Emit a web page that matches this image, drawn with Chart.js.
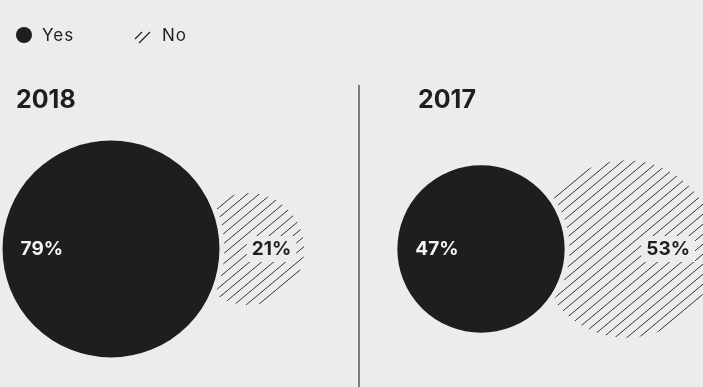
<!DOCTYPE html>
<html>
<head>
<meta charset="utf-8">
<script src="https://cdn.jsdelivr.net/npm/chart.js@4"></script>
<style>
  html, body { margin: 0; padding: 0; background: #ececec; }
  #wrap { width: 703px; height: 387px; position: relative; }
</style>
</head>
<body>
<div id="wrap"><canvas id="myChart"></canvas></div>
<script>
/* Data */
const years = ['2018', '2017'];
const seriesNames = ['Yes', 'No'];
const yesShare = [79, 47];
const noShare = [21, 53];

/* Colours */
let colorBg = '#ececec';
let colorInk = '#1e1e1c';
let colorHatch = '#333333';
let colorRule = '#7c7c7c';

/* Layout (pixels, chart area = whole canvas) */
const panelX = [111, 481];   // centre of the "Yes" bubble in each panel
const centreY = 249;
const overlap = 27;
const sizeK = 12.2;          // radius = k * sqrt(share)

const radius = v => sizeK * Math.sqrt(v);

// diagonal hatch tile, lines running bottom-left to top-right
function makeHatch() {
  const w = 12, h = 10;
  const c = document.createElement('canvas');
  c.width = w; c.height = h;
  const g = c.getContext('2d');
  g.strokeStyle = colorHatch;
  g.lineWidth = 1;
  g.beginPath();
  g.moveTo(0, h); g.lineTo(w, 0);
  g.moveTo(-w, h); g.lineTo(0, 0);
  g.moveTo(w, h); g.lineTo(2 * w, 0);
  g.stroke();
  return g.createPattern(c, 'repeat');
}
const hatch = makeHatch();

const yesPoints = yesShare.map((v, i) => ({ x: panelX[i], y: centreY, r: radius(v) + 2.5 }));
const noPoints = noShare.map((v, i) => ({
  x: panelX[i] + radius(yesShare[i]) + radius(v) - overlap,
  y: centreY,
  r: radius(v),
}));

const data = {
  datasets: [
    {
      label: seriesNames[0],
      data: yesPoints,
      backgroundColor: colorInk,
      borderColor: colorBg,
      borderWidth: 5,
      clip: false,
    },
    {
      label: seriesNames[1],
      data: noPoints,
      backgroundColor: hatch,
      borderWidth: 0,
      clip: false,
    },
  ],
};

const decor = {
  id: 'decor',
  beforeDraw(chart) {
    const ctx = chart.ctx;
    ctx.save();
    ctx.fillStyle = colorBg;
    ctx.fillRect(0, 0, chart.width, chart.height);
    ctx.restore();
  },
  beforeDatasetsDraw(chart) {
    const ctx = chart.ctx;
    ctx.save();
    // divider
    ctx.strokeStyle = colorRule;
    ctx.lineWidth = 2;
    ctx.beginPath();
    ctx.moveTo(359, 85);
    ctx.lineTo(359, chart.height);
    ctx.stroke();

    // panel titles
    ctx.fillStyle = colorInk;
    ctx.font = 'bold 25px Inter';
    ctx.textBaseline = 'alphabetic';
    ctx.fillText(years[0], 16, 108);
    ctx.fillText(years[1], 418, 108);

    // legend
    ctx.beginPath();
    ctx.arc(24, 35, 8, 0, Math.PI * 2);
    ctx.fill();
    ctx.strokeStyle = colorInk;
    ctx.lineWidth = 1.2;
    ctx.beginPath();
    ctx.moveTo(135, 39); ctx.lineTo(142, 32);
    ctx.moveTo(139, 43); ctx.lineTo(150, 32);
    ctx.stroke();
    ctx.font = '17px Inter';
    ctx.letterSpacing = '1px';
    ctx.textBaseline = 'middle';
    ctx.fillText(seriesNames[0], 42, 36);
    ctx.fillText(seriesNames[1], 162, 36);
    ctx.restore();
  },
  afterDatasetsDraw(chart) {
    const ctx = chart.ctx;
    const yesMeta = chart.getDatasetMeta(0);
    const noMeta = chart.getDatasetMeta(1);
    ctx.save();
    ctx.font = 'bold 19px Inter';
    ctx.textBaseline = 'middle';
    yesMeta.data.forEach((pt, i) => {
      const r = radius(yesShare[i]);
      ctx.fillStyle = '#f4f4f4';
      ctx.textAlign = 'left';
      ctx.fillText(yesShare[i] + '%', pt.x - r + 18, pt.y);
    });
    noMeta.data.forEach((pt, i) => {
      const r = radius(noShare[i]);
      const txt = noShare[i] + '%';
      const right = Math.min(pt.x + r, chart.width) - 13;
      const w = ctx.measureText(txt).width;
      ctx.fillStyle = colorBg;
      ctx.fillRect(right - w - 5, pt.y - 13, w + 10, 26);
      ctx.fillStyle = colorInk;
      ctx.textAlign = 'right';
      ctx.fillText(txt, right, pt.y);
    });
    ctx.restore();
  },
};

const chartConfig = {
  type: 'bubble',
  data,
  options: {
    responsive: true,
    maintainAspectRatio: false,
    animation: false,
    events: [],
    layout: { padding: 0, autoPadding: false },
    scales: {
      x: { type: 'linear', display: false, min: 0, max: 703 },
      y: { type: 'linear', display: false, min: 0, max: 387, reverse: true },
    },
    plugins: {
      legend: { display: false },
      tooltip: { enabled: false },
    },
  },
  plugins: [decor],
};

const ctx = document.getElementById('myChart').getContext('2d');
const myChart = new Chart(ctx, chartConfig);
</script>
</body>
</html>
